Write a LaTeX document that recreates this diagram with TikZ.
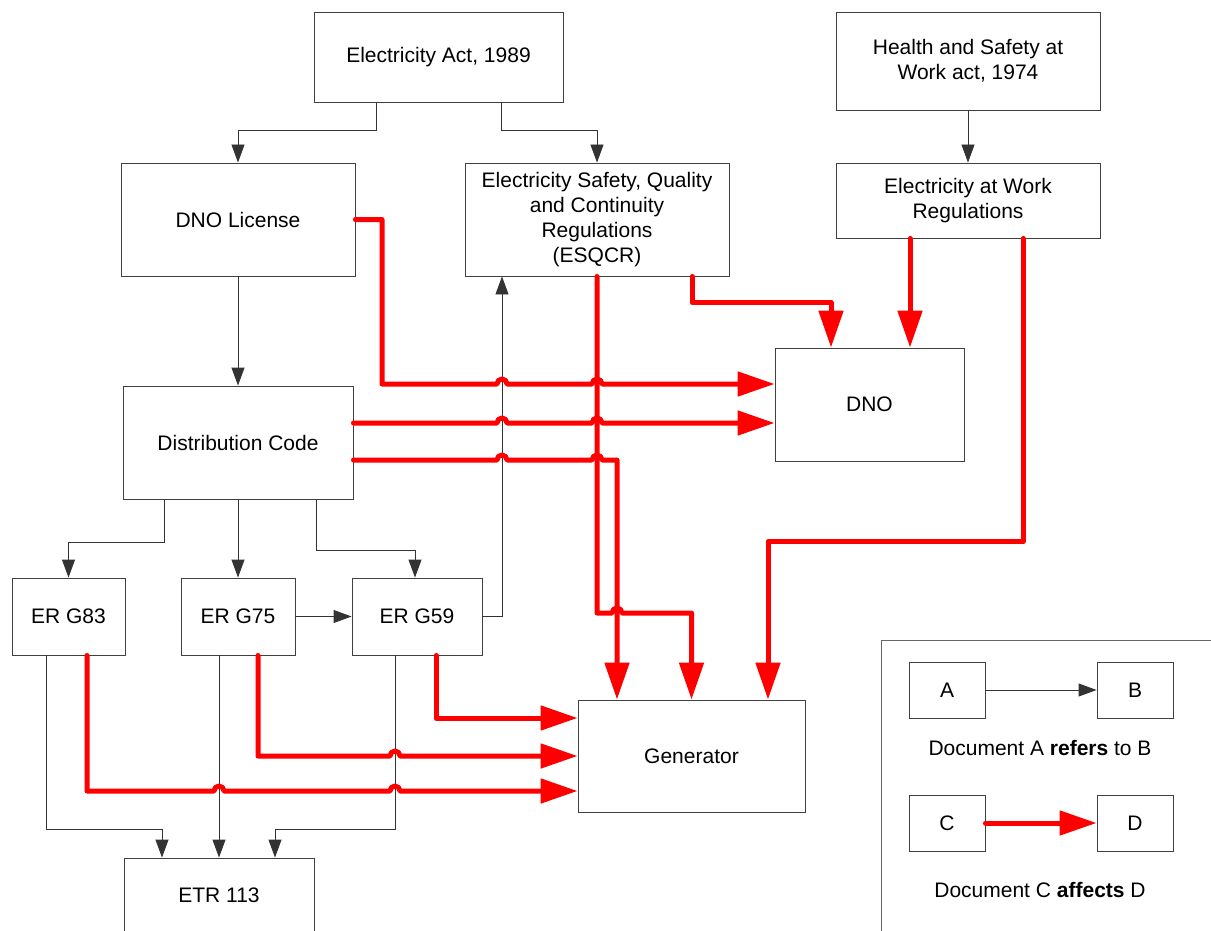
\documentclass[tikz,border=0pt]{standalone}
\usepackage{fontspec}
\setmainfont{Liberation Sans}
\usetikzlibrary{arrows.meta}
\begin{document}
\begin{tikzpicture}[x=1pt,y=-1pt,
  box/.style={draw=black!75, line width=0.9pt, fill=white, inner sep=2pt, align=center,
    font=\fontsize{21}{25}\selectfont},
  refer/.style={draw=black!80, line width=0.9pt, -{Triangle[length=18pt,width=13pt]}},
  affect/.style={draw=red, line width=5pt, line cap=round, line join=round,
    -{Triangle[length=37pt,width=24pt]}},
  lbl/.style={font=\fontsize{21}{25}\selectfont, inner sep=0pt}]
\useasboundingbox (0,0) rectangle (1211,931);
\clip (0,0) rectangle (1211,931);
\fill[white] (0,0) rectangle (1211,931);

% legend frame
\draw[draw=black!60, line width=0.9pt] (881,960) -- (881,640) -- (1240,640);

% boxes
\node[box, minimum width=249pt, minimum height=90pt] (act) at (438.5,57) {Electricity Act, 1989};
\node[box, minimum width=264pt, minimum height=98pt] (hs) at (968,61) {Health and Safety at\\Work act, 1974};
\node[box, minimum width=234pt, minimum height=113pt] (lic) at (238,219.5) {DNO License};
\node[box, minimum width=264pt, minimum height=113pt] (esq) at (597,219.5) {Electricity Safety, Quality\\and Continuity\\Regulations\\(ESQCR)};
\node[box, minimum width=264pt, minimum height=75pt] (eaw) at (968,200.5) {Electricity at Work\\Regulations};
\node[box, minimum width=189pt, minimum height=113pt] (dno) at (869.5,404.5) {DNO};
\node[box, minimum width=230pt, minimum height=113pt] (dc) at (238,442.5) {Distribution Code};
\node[box, minimum width=113pt, minimum height=77pt] (g83) at (68.5,616.5) {ER G83};
\node[box, minimum width=114pt, minimum height=77pt] (g75) at (238,616.5) {ER G75};
\node[box, minimum width=130pt, minimum height=77pt] (g59) at (417,616.5) {ER G59};
\node[box, minimum width=227pt, minimum height=112pt] (gen) at (691.5,756) {Generator};
\node[box, minimum width=190pt, minimum height=74pt] (etr) at (219,895) {ETR 113};

% legend boxes
\node[box, minimum width=76pt, minimum height=56pt] (la) at (947,690) {A};
\node[box, minimum width=76pt, minimum height=56pt] (lb) at (1135,690) {B};
\node[box, minimum width=76pt, minimum height=56pt] (lc) at (947,823) {C};
\node[box, minimum width=76pt, minimum height=56pt] (ld) at (1135,823) {D};
\node[lbl] (lt1) at (1040,748) {Document A \textbf{refers} to B};
\node[lbl] (lt2) at (1040,890) {Document C \textbf{affects} D};

% black "refers" connectors
\draw[refer] ([xshift=-62.5pt]act.south) -- ++(0,28) -| (lic.north);
\draw[refer] ([xshift=62.5pt]act.south) -- ++(0,28) -| (esq.north);
\draw[refer] (hs.south) -- (eaw.north);
\draw[refer] (lic.south) -- (dc.north);
\draw[refer] ([xshift=-74pt]dc.south) -- ++(0,43) -| (g83.north);
\draw[refer] (dc.south) -- (g75.north);
\draw[refer] ([xshift=78pt]dc.south) -- ++(0,51) -| ([xshift=-2pt]g59.north);
\draw[refer] (g75.east) -- (g59.west);
\draw[refer] (g59.east) -| ([xshift=-95pt]esq.south);
\draw[refer] ([xshift=-22.5pt]g83.south) -- ++(0,174) -| ([xshift=-57pt]etr.north);
\draw[refer] ([xshift=-19pt]g75.south) -- (etr.north);
\draw[refer] ([xshift=-22pt]g59.south) -- ++(0,174) -| ([xshift=56pt]etr.north);
\draw[refer] (la.east) -- (lb.west);

% red "affects" connectors
\draw[affect] (esq.south) -- (597,613) -- (612,613) arc[start angle=180,end angle=0,radius=5pt] -- (691.5,613) -- (gen.north);
\draw[affect] ([xshift=95pt]esq.south) -- ++(0,26) -| ([xshift=-38.5pt]dno.north);
\draw[affect] ([xshift=-58pt]eaw.south) -- ([xshift=-58pt]eaw.south |- dno.north);
\draw[affect] ([xshift=55pt]eaw.south) -- ++(0,303) -| ([xshift=76.5pt]gen.north);
\draw[affect] (lic.east) -| (382,384) -- (497,384) arc[start angle=180,end angle=0,radius=5pt]
  -- (592,384) arc[start angle=180,end angle=0,radius=5pt] -- ([yshift=20.5pt]dno.west);
\draw[affect] ([yshift=19.5pt]dc.east) -- (497,423) arc[start angle=180,end angle=0,radius=5pt]
  -- (592,423) arc[start angle=180,end angle=0,radius=5pt] -- ([yshift=-18.5pt]dno.west);
\draw[affect] ([yshift=-17.5pt]dc.east) -- (497,460) arc[start angle=180,end angle=0,radius=5pt]
  -- (592,460) arc[start angle=180,end angle=0,radius=5pt] -- (617,460) -- ([xshift=-74.5pt]gen.north);
\draw[affect] ([xshift=19pt]g59.south) |- ([yshift=38pt]gen.west);
\draw[affect] ([xshift=20pt]g75.south) -- (258,756) -- (390,756) arc[start angle=180,end angle=0,radius=5pt] -- (gen.west);
\draw[affect] ([xshift=18.5pt]g83.south) -- (87,791) -- (214,791) arc[start angle=180,end angle=0,radius=5pt]
  -- (390,791) arc[start angle=180,end angle=0,radius=5pt] -- ([yshift=-35pt]gen.west);
\draw[affect] (lc.east) -- (ld.west);
\end{tikzpicture}
\end{document}
